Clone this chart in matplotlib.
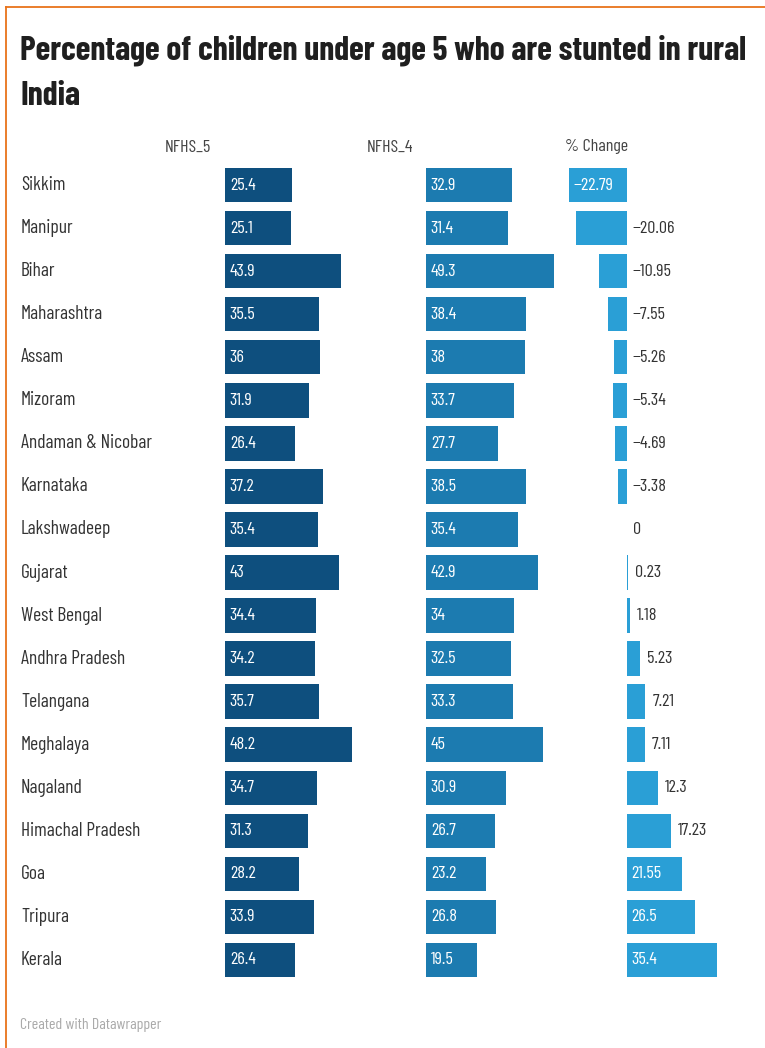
import matplotlib
matplotlib.use("Agg")
import matplotlib.pyplot as plt
from matplotlib import font_manager
from matplotlib.lines import Line2D
from matplotlib.transforms import blended_transform_factory

# pick a condensed face (the reference text is very narrow)
names = {f.name for f in font_manager.fontManager.ttflist}
cond = next((n for n in ["Barlow Condensed", "Roboto Condensed", "Fira Sans Extra Condensed",
                         "Asap Condensed", "Encode Sans Condensed"] if n in names), "DejaVu Sans")
plt.rcParams['font.family'] = [cond, 'DejaVu Sans']

states = ["Sikkim", "Manipur", "Bihar", "Maharashtra", "Assam", "Mizoram",
          "Andaman & Nicobar", "Karnataka", "Lakshwadeep", "Gujarat", "West Bengal",
          "Andhra Pradesh", "Telangana", "Meghalaya", "Nagaland", "Himachal Pradesh",
          "Goa", "Tripura", "Kerala"]
nfhs5 = [25.4, 25.1, 43.9, 35.5, 36, 31.9, 26.4, 37.2, 35.4, 43, 34.4, 34.2,
         35.7, 48.2, 34.7, 31.3, 28.2, 33.9, 26.4]
nfhs4 = [32.9, 31.4, 49.3, 38.4, 38, 33.7, 27.7, 38.5, 35.4, 42.9, 34, 32.5,
         33.3, 45, 30.9, 26.7, 23.2, 26.8, 19.5]
change = [-22.79, -20.06, -10.95, -7.55, -5.26, -5.34, -4.69, -3.38, 0, 0.23,
          1.18, 5.23, 7.21, 7.11, 12.3, 17.23, 21.55, 26.5, 35.4]
headers = ["NFHS_5", "NFHS_4", "% Change"]

c5 = "#0e4f7e"
c4 = "#1c7bb0"
cc = "#2a9fd6"
txt = "#333333"

W, H = 765, 1048
fig = plt.figure(figsize=(W / 100, H / 100), dpi=100)
renderer = fig.canvas.get_renderer()

def fx(px):
    return px / W

def fy(py):
    return 1 - py / H

def fit_size(s, target_px, weight="normal"):
    t = fig.text(0, 0, s, fontsize=10, fontweight=weight)
    w = t.get_window_extent(renderer).width
    t.remove()
    return 10 * target_px / w

title_fs = fit_size("Percentage of children under age 5 who are stunted in rural", 725, "bold")
label_fs = min(fit_size("Andaman & Nicobar", 135), 14)
value_fs = min(fit_size("25.4", 26), 13)
head_fs = min(fit_size("NFHS_5", 54), 13)
foot_fs = fit_size("Created with Datawrapper", 142)

bottom = fy(981.5)
height = 818 / H
ax1 = fig.add_axes([fx(225), bottom, fx(160), height])
ax2 = fig.add_axes([fx(426), bottom, fx(160), height])
ax3 = fig.add_axes([fx(560), bottom, fx(180), height])

ypos = list(range(len(states)))
ax1.barh(ypos, nfhs5, height=0.8, color=c5)
ax2.barh(ypos, nfhs4, height=0.8, color=c4)
ax3.barh(ypos, change, height=0.8, color=cc)

ax1.set_xlim(0, 160 / 2.64)
ax2.set_xlim(0, 160 / 2.6)
ax3.set_xlim(-67 / 2.55, 113 / 2.55)
for ax in (ax1, ax2, ax3):
    ax.set_ylim(len(states) - 0.5, -0.5)
    ax.axis("off")
    ax.patch.set_alpha(0)

lab = dict(fontsize=value_fs, va="center")
for i in ypos:
    ax1.annotate(f"{nfhs5[i]:g}", (0, i), xytext=(3.5, 0), textcoords="offset points",
                 color="white", ha="left", **lab)
    ax2.annotate(f"{nfhs4[i]:g}", (0, i), xytext=(3.5, 0), textcoords="offset points",
                 color="white", ha="left", **lab)
    v = change[i]
    s = f"{v:g}".replace("-", "\u2212")
    if v <= -21:
        ax3.annotate(s, (v, i), xytext=(3, 0), textcoords="offset points",
                     color="white", ha="left", **lab)
    elif v <= 0:
        ax3.annotate(s, (0, i), xytext=(4, 0), textcoords="offset points",
                     color=txt, ha="left", **lab)
    elif v >= 20:
        ax3.annotate(s, (0, i), xytext=(3, 0), textcoords="offset points",
                     color="white", ha="left", **lab)
    else:
        ax3.annotate(s, (v, i), xytext=(5, 0), textcoords="offset points",
                     color=txt, ha="left", **lab)

tr = blended_transform_factory(fig.transFigure, ax1.transData)
for i, s in enumerate(states):
    ax1.text(fx(21), i, s, transform=tr, ha="left", va="center",
             fontsize=label_fs, color=txt, clip_on=False)

for x, h in zip([165, 367, 565], headers):
    fig.text(fx(x), fy(147), h, ha="left", va="center", fontsize=head_fs, color="#444444")

fig.text(fx(20), fy(59), "Percentage of children under age 5 who are stunted in rural",
         ha="left", va="baseline", fontsize=title_fs, fontweight="bold", color="#1f1f1f")
fig.text(fx(20), fy(105), "India", ha="left", va="baseline", fontsize=title_fs,
         fontweight="bold", color="#1f1f1f")

fig.text(fx(20), fy(1025), "Created with Datawrapper", ha="left", va="center",
         fontsize=foot_fs, color="#aaaaaa")

orange = "#e8731a"
fig.add_artist(Line2D([fx(6), 1], [fy(6.5), fy(6.5)], transform=fig.transFigure,
                      color=orange, lw=1.3))
fig.add_artist(Line2D([fx(6), fx(6)], [fy(6.5), 0], transform=fig.transFigure,
                      color=orange, lw=1.3))

fig.savefig("out.png", dpi=100, facecolor="white")
